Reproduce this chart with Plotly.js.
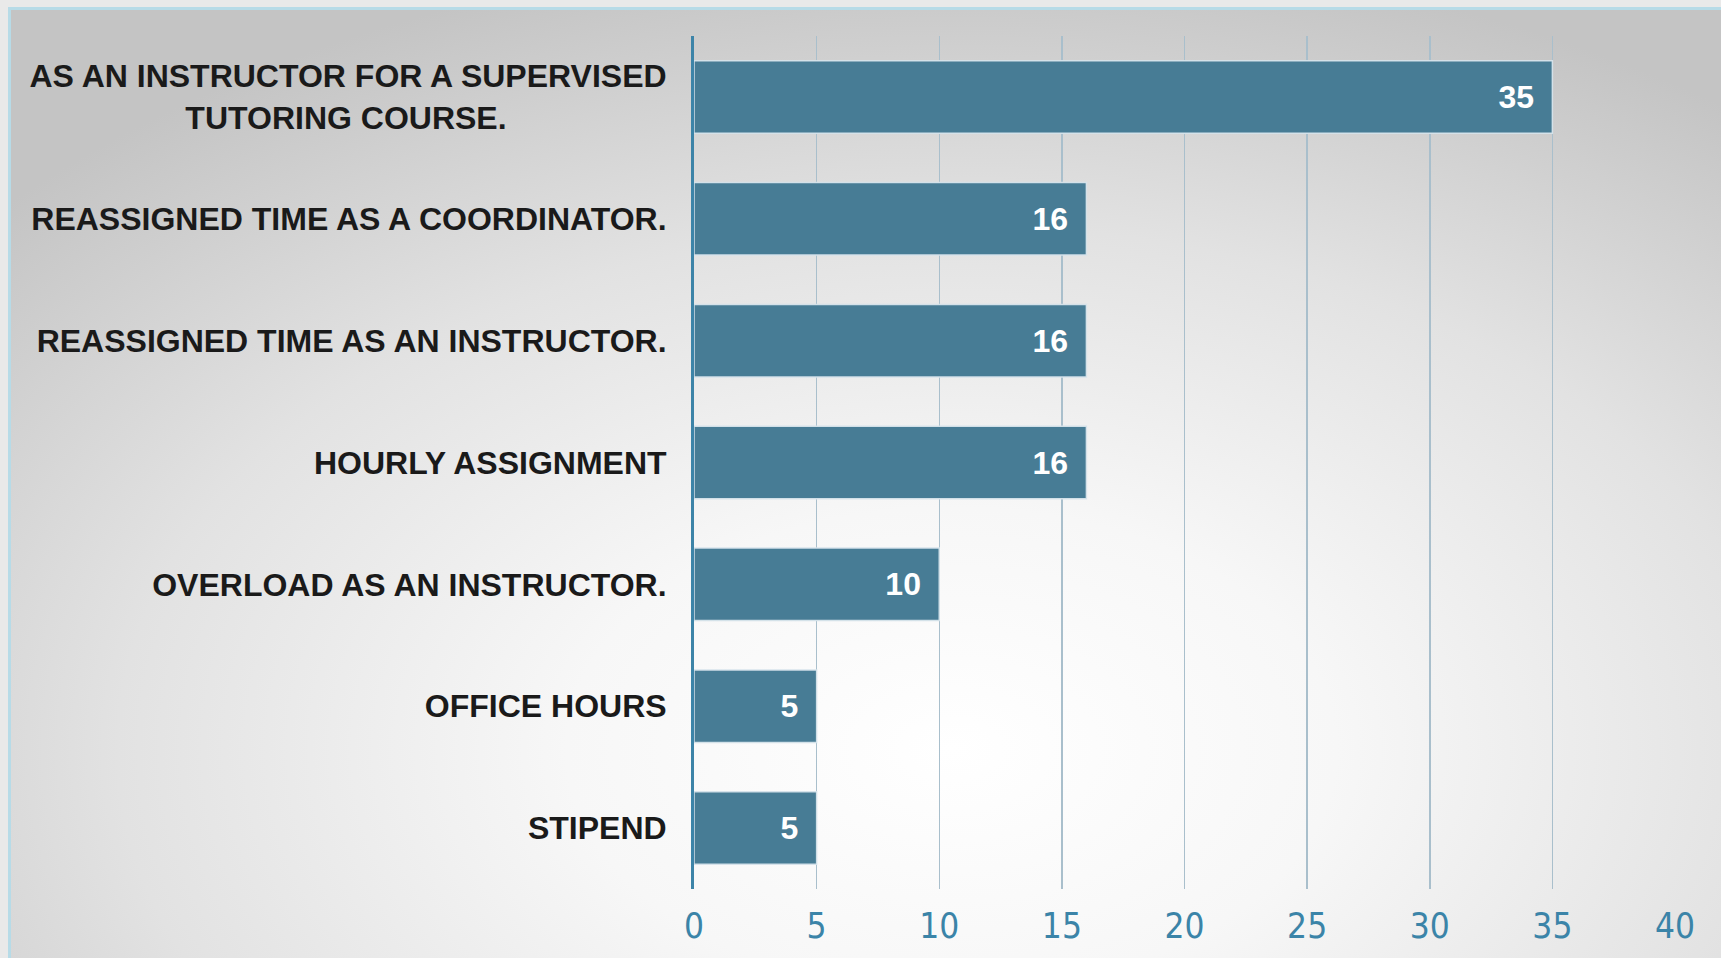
<!DOCTYPE html>
<html>
<head>
<meta charset="utf-8">
<script src="https://cdn.plot.ly/plotly-3.0.1.min.js"></script>
<style>
  html, body { margin: 0; padding: 0; width: 1721px; height: 958px; overflow: hidden; background: #e9e9e9; }
  #frame {
    position: absolute; left: 8px; top: 7px; right: 0; bottom: 0;
    border-left: 3px solid #b7dbe7; border-top: 3px solid #b7dbe7;
    background: radial-gradient(ellipse 75% 85% at 55% 78%, #ffffff 0%, #f7f7f7 30%, #e2e2e2 65%, #c4c4c4 100%);
  }
  #chart { position: absolute; left: 0; top: 0; width: 1721px; height: 958px; }
</style>
</head>
<body>
<div id="frame"></div>
<div id="chart"></div>
<script>
const categories = [
  "AS AN INSTRUCTOR FOR A SUPERVISED<br>TUTORING COURSE.\u00a0\u00a0\u00a0\u00a0\u00a0\u00a0\u00a0\u00a0\u00a0\u00a0\u00a0\u00a0\u00a0\u00a0\u00a0\u00a0\u00a0\u00a0",
  "REASSIGNED TIME AS A COORDINATOR.",
  "REASSIGNED TIME AS AN INSTRUCTOR.",
  "HOURLY ASSIGNMENT",
  "OVERLOAD AS AN INSTRUCTOR.",
  "OFFICE HOURS",
  "STIPEND"
];
const counts = [35, 16, 16, 16, 10, 5, 5];
const xTicks = [0, 5, 10, 15, 20, 25, 30, 35, 40];

const trace = {
  type: 'bar',
  orientation: 'h',
  y: categories,
  x: counts,
  marker: { color: '#477c95', line: { color: 'rgba(215,228,235,0.95)', width: 1.5 } },
  text: counts.map(v => v + '\u00a0\u2009'),
  textposition: 'inside',
  insidetextanchor: 'end',
  textfont: { family: 'Liberation Sans, Arial, sans-serif', size: 32, color: '#ffffff', weight: 'bold' },
  hoverinfo: 'x+y'
};

const layout = {
  width: 1721, height: 958,
  margin: { l: 694, r: 46, t: 36, b: 69 },
  paper_bgcolor: 'rgba(0,0,0,0)',
  plot_bgcolor: 'rgba(0,0,0,0)',
  bargap: 0.405,
  showlegend: false,
  xaxis: {
    range: [0, 40],
    tickvals: xTicks,
    ticktext: xTicks.map(String),
    showgrid: true,
    gridcolor: '#a9bfcc',
    gridwidth: 1.5,
    zeroline: false,
    showline: false,
    ticks: '',
    ticklabelstandoff: 13,
    tickfont: { family: 'Liberation Sans Narrow, Arial Narrow, DejaVu Sans Condensed, sans-serif', size: 35, color: '#3b84a8' }
  },
  yaxis: {
    autorange: 'reversed',
    type: 'category',
    showgrid: false,
    zeroline: false,
    showline: true,
    linecolor: '#3d84a8',
    linewidth: 3,
    ticks: '',
    ticklabelstandoff: 18,
    tickfont: { family: 'Liberation Sans, Arial, sans-serif', size: 32, color: '#1a1a1a', weight: 'bold' }
  }
};

Plotly.newPlot('chart', [trace], layout, { displayModeBar: false, staticPlot: true });
</script>
</body>
</html>
